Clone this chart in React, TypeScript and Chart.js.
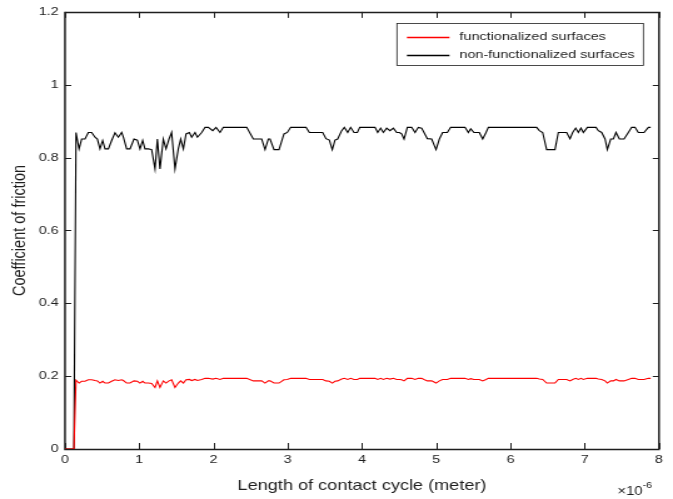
import React, { useEffect, useRef } from 'react';
import { Chart, registerables } from 'chart.js';

Chart.register(...registerables);

// ---- data (x in units of 1e-6 m) ----
const xTickValues = [0, 1, 2, 3, 4, 5, 6, 7, 8];
const yTickValues = [0, 0.2, 0.4, 0.6, 0.8, 1, 1.2];

const seriesLabels = ['functionalized surfaces', 'non-functionalized surfaces'];
const seriesColors = ['#ff0000', '#000000'];

const xTitle = 'Length of contact cycle (meter)';
const yTitle = 'Coefficient of friction';
const xExponent = '-6';

const cycleX = [
  0, 0.12, 0.148, 0.189, 0.224, 0.269, 0.314, 0.359, 0.404, 0.436, 0.471, 0.507, 0.539, 0.584,
  0.628, 0.673, 0.718, 0.763, 0.786, 0.83, 0.875, 0.929, 0.974, 1.01, 1.046, 1.077, 1.122,
  1.167, 1.212, 1.244, 1.279, 1.324, 1.36, 1.401, 1.436, 1.481, 1.526, 1.558, 1.594, 1.63,
  1.675, 1.706, 1.751, 1.783, 1.841, 1.886, 1.93, 1.989, 2.034, 2.088, 2.132, 2.447, 2.536,
  2.649, 2.694, 2.738, 2.761, 2.815, 2.882, 2.949, 2.994, 3.039, 3.246, 3.291, 3.47, 3.515,
  3.56, 3.6, 3.636, 3.672, 3.726, 3.762, 3.807, 3.847, 3.892, 3.937, 3.97, 4.175, 4.211,
  4.251, 4.287, 4.332, 4.377, 4.422, 4.467, 4.503, 4.534, 4.566, 4.611, 4.669, 4.714, 4.759,
  4.803, 4.835, 4.88, 4.938, 4.997, 5.042, 5.086, 5.149, 5.194, 5.387, 5.432, 5.464, 5.508,
  5.58, 5.625, 5.67, 5.702, 6.352, 6.388, 6.433, 6.487, 6.599, 6.644, 6.756, 6.801, 6.837,
  6.878, 6.914, 6.949, 6.981, 7.035, 7.152, 7.183, 7.228, 7.273, 7.304, 7.349, 7.385, 7.421,
  7.466, 7.529, 7.587, 7.632, 7.677, 7.721, 7.798, 7.857, 7.888,
];

const nonFunctionalized = [
  0, 0, 0.869, 0.824, 0.851, 0.851, 0.869, 0.869, 0.856, 0.851, 0.824, 0.847, 0.824, 0.824,
  0.847, 0.868, 0.856, 0.869, 0.856, 0.824, 0.824, 0.851, 0.848, 0.824, 0.847, 0.824, 0.824,
  0.822, 0.769, 0.851, 0.769, 0.851, 0.824, 0.851, 0.869, 0.769, 0.824, 0.851, 0.824, 0.865,
  0.869, 0.856, 0.869, 0.856, 0.869, 0.883, 0.883, 0.874, 0.883, 0.869, 0.883, 0.883, 0.851,
  0.851, 0.822, 0.851, 0.851, 0.822, 0.822, 0.865, 0.869, 0.883, 0.883, 0.869, 0.869, 0.852,
  0.848, 0.822, 0.848, 0.851, 0.874, 0.883, 0.869, 0.883, 0.869, 0.869, 0.883, 0.883, 0.869,
  0.881, 0.869, 0.881, 0.874, 0.881, 0.869, 0.869, 0.865, 0.851, 0.883, 0.883, 0.869, 0.883,
  0.881, 0.869, 0.852, 0.851, 0.822, 0.851, 0.869, 0.869, 0.883, 0.883, 0.869, 0.879, 0.869,
  0.869, 0.851, 0.869, 0.883, 0.883, 0.874, 0.869, 0.822, 0.822, 0.869, 0.869, 0.852, 0.869,
  0.881, 0.869, 0.881, 0.869, 0.883, 0.883, 0.874, 0.869, 0.851, 0.822, 0.851, 0.851, 0.869,
  0.851, 0.851, 0.869, 0.883, 0.883, 0.869, 0.869, 0.883, 0.883,
];

const functionalized = [
  0, 0, 0.189, 0.181, 0.186, 0.186, 0.19, 0.19, 0.188, 0.187, 0.181, 0.186, 0.181, 0.181,
  0.186, 0.19, 0.188, 0.19, 0.188, 0.181, 0.181, 0.187, 0.186, 0.181, 0.186, 0.181, 0.181,
  0.18, 0.169, 0.187, 0.169, 0.187, 0.181, 0.187, 0.19, 0.169, 0.181, 0.187, 0.181, 0.19,
  0.191, 0.188, 0.191, 0.188, 0.191, 0.194, 0.194, 0.192, 0.194, 0.191, 0.194, 0.194, 0.187,
  0.187, 0.181, 0.187, 0.187, 0.181, 0.181, 0.19, 0.191, 0.194, 0.194, 0.191, 0.191, 0.187,
  0.186, 0.181, 0.186, 0.187, 0.192, 0.194, 0.191, 0.194, 0.191, 0.191, 0.194, 0.194, 0.191,
  0.194, 0.191, 0.194, 0.192, 0.194, 0.191, 0.191, 0.19, 0.187, 0.194, 0.194, 0.191, 0.194,
  0.194, 0.191, 0.187, 0.187, 0.181, 0.187, 0.191, 0.191, 0.194, 0.194, 0.191, 0.193, 0.191,
  0.191, 0.187, 0.191, 0.194, 0.194, 0.192, 0.191, 0.181, 0.181, 0.191, 0.191, 0.187, 0.191,
  0.194, 0.191, 0.194, 0.191, 0.194, 0.194, 0.192, 0.191, 0.187, 0.181, 0.187, 0.187, 0.191,
  0.187, 0.187, 0.191, 0.194, 0.194, 0.191, 0.191, 0.194, 0.194,
];

// ---- layout (target picture is horizontally stretched) ----
const PAGE_W = 673;
const PAGE_H = 499;
const STRETCH = 1.25;
const CW = Math.round(PAGE_W / STRETCH);
const SX = PAGE_W / CW;
const PLOT_LEFT = 65 / SX;
const PLOT_RIGHT = 659 / SX;
const PLOT_TOP = 11;
const PLOT_BOTTOM = 449;

const FONT = "'Liberation Sans', Arial, Helvetica, sans-serif";
const INK = '#1e1e1e';

const framePlugin = {
  id: 'matlabFrame',
  beforeDatasetsDraw(chart: any) {
    const { ctx, chartArea: a, scales } = chart;
    ctx.save();
    ctx.strokeStyle = INK;
    ctx.lineWidth = 1;
    ctx.beginPath();
    xTickValues.forEach((v) => {
      const px = Math.round(scales.x.getPixelForValue(v)) + 0.5;
      ctx.moveTo(px, a.bottom);
      ctx.lineTo(px, a.bottom - 6);
      ctx.moveTo(px, a.top);
      ctx.lineTo(px, a.top + 6);
    });
    yTickValues.forEach((v) => {
      const py = Math.round(scales.y.getPixelForValue(v)) + 0.5;
      ctx.moveTo(a.left, py);
      ctx.lineTo(a.left + 5, py);
      ctx.moveTo(a.right, py);
      ctx.lineTo(a.right - 5, py);
    });
    ctx.stroke();
    ctx.lineWidth = 1.5;
    ctx.strokeRect(a.left, Math.round(a.top) + 0.5, a.right - a.left, Math.round(a.bottom) - Math.round(a.top));
    ctx.restore();
  },
  afterDraw(chart: any) {
    const { ctx, chartArea: a } = chart;
    ctx.save();
    // legend
    ctx.font = `11.5px ${FONT}`;
    const textW = Math.max(...seriesLabels.map((l) => ctx.measureText(l).width));
    const boxW = 50 + textW + 7;
    const boxR = a.right - 12.5;
    const boxL = boxR - boxW;
    const boxT = a.top + 11.5;
    const boxH = 42;
    ctx.fillStyle = '#ffffff';
    ctx.fillRect(boxL, boxT, boxW, boxH);
    ctx.strokeStyle = INK;
    ctx.lineWidth = 0.8;
    ctx.strokeRect(boxL, Math.round(boxT) + 0.5, boxW, boxH);
    seriesLabels.forEach((label, i) => {
      const cy = boxT + 13.5 + i * 17.6;
      ctx.strokeStyle = seriesColors[i];
      ctx.lineWidth = 1.3;
      ctx.beginPath();
      ctx.moveTo(boxL + 8, Math.round(cy) + 0.5);
      ctx.lineTo(boxL + 42, Math.round(cy) + 0.5);
      ctx.stroke();
      ctx.fillStyle = INK;
      ctx.textBaseline = 'middle';
      ctx.textAlign = 'left';
      ctx.fillText(label, boxL + 50, cy);
    });
    // exponent label
    ctx.fillStyle = INK;
    ctx.textBaseline = 'alphabetic';
    ctx.font = `12px ${FONT}`;
    const base = '\u00d710';
    const bw = ctx.measureText(base).width;
    ctx.font = `8.5px ${FONT}`;
    const ew = ctx.measureText(xExponent).width;
    const endX = a.right - 5.5;
    const startX = endX - bw - ew;
    ctx.font = `12px ${FONT}`;
    ctx.fillText(base, startX, 495);
    ctx.font = `8.5px ${FONT}`;
    ctx.fillText(xExponent, startX + bw, 487.5);
    ctx.restore();
  },
};

export default function App() {
  const canvasRef = useRef<HTMLCanvasElement | null>(null);

  useEffect(() => {
    document.body.style.margin = '0';
    const canvas = canvasRef.current;
    if (!canvas) return;
    const chart = new Chart(canvas, {
      type: 'line',
      data: {
        datasets: [
          {
            label: seriesLabels[0],
            data: cycleX.map((x, i) => ({ x, y: functionalized[i] })),
            borderColor: seriesColors[0],
            backgroundColor: seriesColors[0],
            borderWidth: 1.1,
            pointRadius: 0,
            tension: 0,
            fill: false,
          },
          {
            label: seriesLabels[1],
            data: cycleX.map((x, i) => ({ x, y: nonFunctionalized[i] })),
            borderColor: seriesColors[1],
            backgroundColor: seriesColors[1],
            borderWidth: 1.1,
            pointRadius: 0,
            tension: 0,
            fill: false,
          },
        ],
      },
      options: {
        responsive: false,
        maintainAspectRatio: false,
        animation: false,
        devicePixelRatio: 1,
        layout: {
          padding: { top: PLOT_TOP, left: 0, bottom: 0, right: CW - PLOT_RIGHT },
        },
        plugins: {
          legend: { display: false },
          tooltip: { enabled: false },
        },
        scales: {
          x: {
            type: 'linear',
            min: 0,
            max: 8,
            afterFit: (s: any) => {
              s.height = PAGE_H - PLOT_BOTTOM;
            },
            afterBuildTicks: (s: any) => {
              s.ticks = xTickValues.map((v) => ({ value: v }));
            },
            grid: { display: false, drawTicks: false },
            border: { display: false },
            ticks: {
              padding: 4,
              color: INK,
              font: { family: FONT, size: 11.5 },
              maxRotation: 0,
              callback: (v: any) => String(v),
            },
            title: {
              display: true,
              text: xTitle,
              color: INK,
              font: { family: FONT, size: 14.5 },
              padding: { top: 0, bottom: 4 },
            },
          },
          y: {
            type: 'linear',
            min: 0,
            max: 1.2,
            afterFit: (s: any) => {
              s.width = PLOT_LEFT;
            },
            afterBuildTicks: (s: any) => {
              s.ticks = yTickValues.map((v) => ({ value: v }));
            },
            grid: { display: false, drawTicks: false },
            border: { display: false },
            ticks: {
              padding: 5,
              color: INK,
              font: { family: FONT, size: 11.5 },
              callback: (v: any) => String(Number(Number(v).toFixed(1))),
            },
            title: {
              display: true,
              text: yTitle,
              color: INK,
              font: { family: FONT, size: 14.5 },
              padding: { top: 7, bottom: 0 },
            },
          },
        },
      },
      plugins: [framePlugin],
    });
    return () => chart.destroy();
  }, []);

  return (
    <div style={{ position: 'absolute', left: 0, top: 0, width: PAGE_W, height: PAGE_H, overflow: 'hidden', background: '#fff' }}>
      <div style={{ width: CW, height: PAGE_H, transform: `scaleX(${SX})`, transformOrigin: '0 0' }}>
        <canvas ref={canvasRef} width={CW} height={PAGE_H} style={{ display: 'block' }} />
      </div>
    </div>
  );
}
